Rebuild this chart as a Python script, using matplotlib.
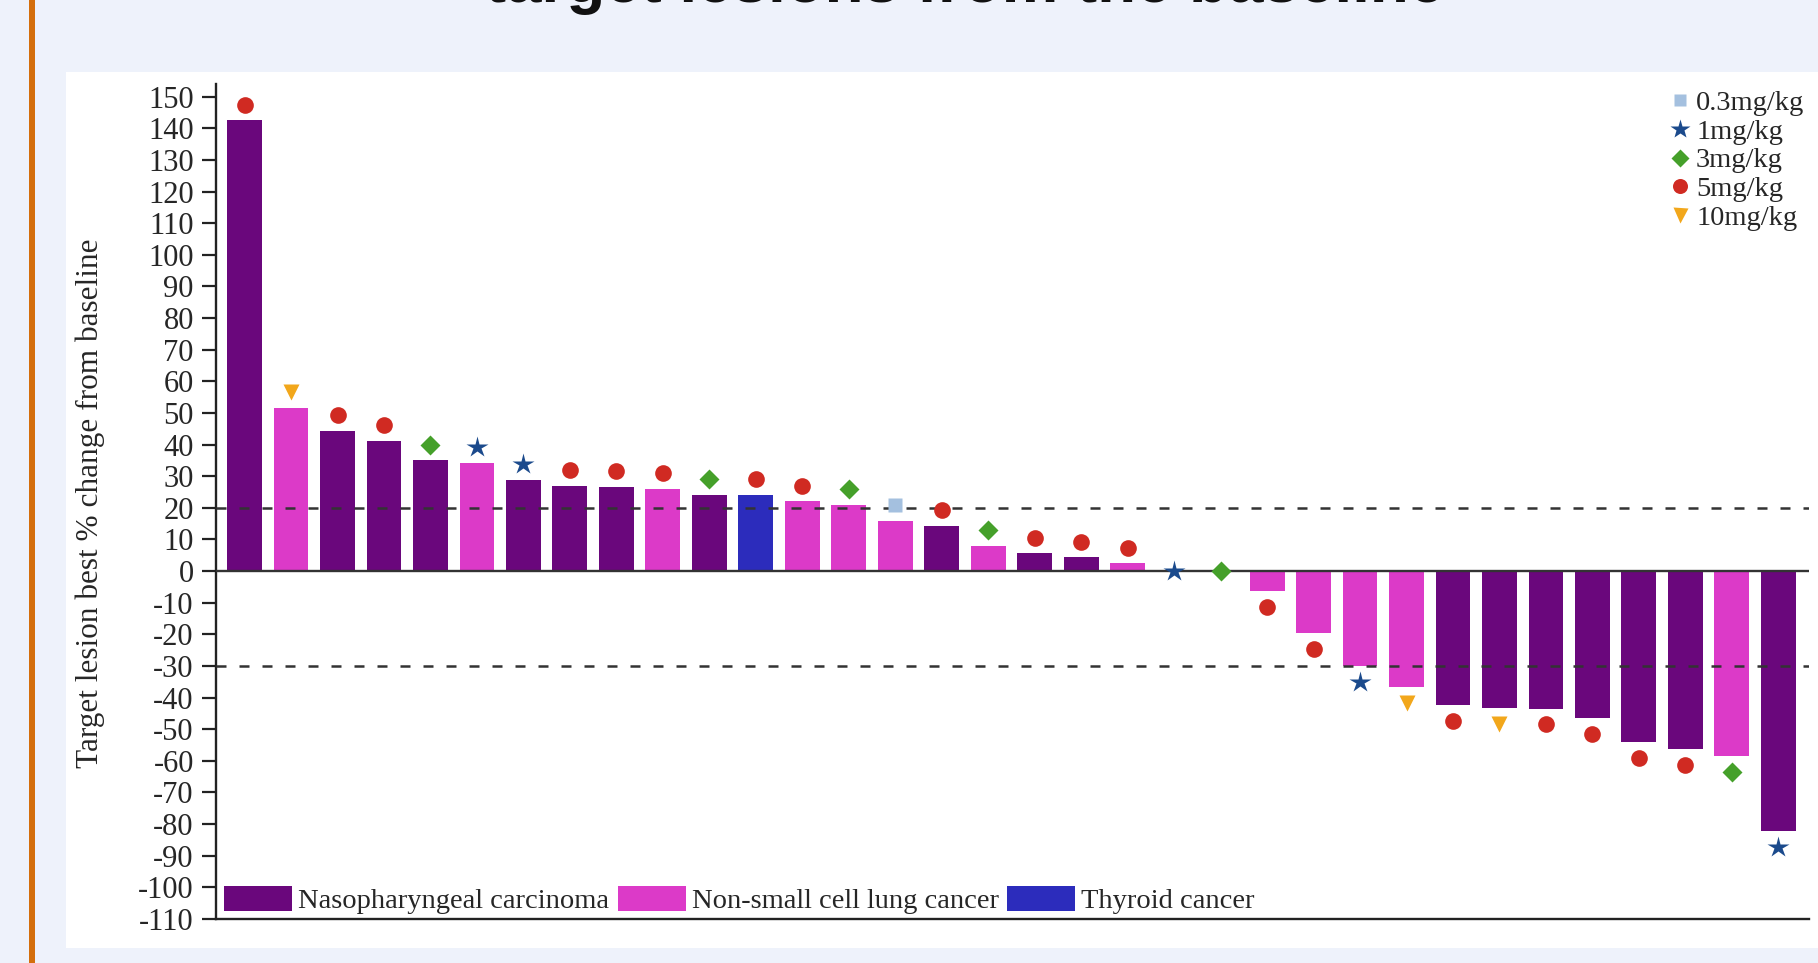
import matplotlib
matplotlib.use("Agg")
import matplotlib.pyplot as plt
from matplotlib.patches import Rectangle, Patch
from matplotlib.lines import Line2D
import numpy as np

# ---- data -------------------------------------------------------------
cancer_type = ["NPC", "NSCLC", "NPC", "NPC", "NPC", "NSCLC", "NPC", "NPC", "NPC",
               "NSCLC", "NPC", "Thyroid", "NSCLC", "NSCLC", "NSCLC", "NPC", "NSCLC",
               "NPC", "NPC", "NSCLC", "NPC", "NPC", "NSCLC", "NSCLC", "NSCLC",
               "NSCLC", "NPC", "NPC", "NPC", "NPC", "NPC", "NPC", "NSCLC", "NPC"]
best_change = [142.5, 51.5, 44.2, 41.2, 35.0, 34.2, 28.7, 27.0, 26.6, 25.9, 24.0,
               24.0, 22.0, 20.8, 15.8, 14.2, 8.0, 5.6, 4.3, 2.4, 0.0, 0.0, -6.3,
               -19.5, -30.0, -36.8, -42.3, -43.4, -43.5, -46.5, -54.0, -56.3,
               -58.4, -82.1]
dose_level = ["5mg/kg", "10mg/kg", "5mg/kg", "5mg/kg", "3mg/kg", "1mg/kg", "1mg/kg",
              "5mg/kg", "5mg/kg", "5mg/kg", "3mg/kg", "5mg/kg", "5mg/kg", "3mg/kg",
              "0.3mg/kg", "5mg/kg", "3mg/kg", "5mg/kg", "5mg/kg", "5mg/kg", "1mg/kg",
              "3mg/kg", "5mg/kg", "5mg/kg", "1mg/kg", "10mg/kg", "5mg/kg", "10mg/kg",
              "5mg/kg", "5mg/kg", "5mg/kg", "5mg/kg", "3mg/kg", "1mg/kg"]
cancer_labels = {"NPC": "Nasopharyngeal carcinoma",
                 "NSCLC": "Non-small cell lung cancer",
                 "Thyroid": "Thyroid cancer"}
dose_order = ["0.3mg/kg", "1mg/kg", "3mg/kg", "5mg/kg", "10mg/kg"]
thresholds = [20, -30]
yticks = list(range(-110, 151, 10))

# ---- styles -----------------------------------------------------------
bar_colors = {"NPC": "#6a077c", "NSCLC": "#dc3ac8", "Thyroid": "#2c2cbc"}
dose_style = {
    "0.3mg/kg": dict(marker="s", color="#a4c0df", ms=10),
    "1mg/kg": dict(marker="*", color="#1b4a8c", ms=16),
    "3mg/kg": dict(marker="D", color="#45a02a", ms=10.5),
    "5mg/kg": dict(marker="o", color="#d02a22", ms=12),
    "10mg/kg": dict(marker="v", color="#f2a71b", ms=12),
}
serif = ["Liberation Serif", "DejaVu Serif"]
text_color = "#262626"
W, H = 1818, 963

fig = plt.figure(figsize=(W / 100, H / 100), dpi=100)
fig.patch.set_facecolor("#eef2fb")

# white panel and orange accent bar, kept behind the axes
fig.patches.append(Rectangle((66 / W, 1 - 948 / H), 1 - 66 / W, (948 - 72) / H,
                             transform=fig.transFigure, facecolor="white",
                             edgecolor="none", zorder=-2))
fig.patches.append(Rectangle((29 / W, 0), 6 / W, 1, transform=fig.transFigure,
                             facecolor="#d46e0c", edgecolor="none", zorder=-2))

# title (only its last line shows at the top edge)
title = fig.text(965 / W, 1 - 2 / H, "target lesions from the baseline",
                 ha="center", va="baseline", fontsize=40, fontweight="bold",
                 family=["Liberation Sans", "DejaVu Sans"], color="#111111")
fig.canvas.draw()
tw = title.get_window_extent().width
title.set_fontsize(40 * 956 / tw)

ax = fig.add_axes([216 / W, 1 - 919 / H, (1809 - 216) / W, (919 - 84) / H])
ax.set_facecolor("none")

x = np.arange(len(best_change))
vals = np.array(best_change)
ax.bar(x, vals, width=0.75, color=[bar_colors[c] for c in cancer_type],
       zorder=2)

# zero line and threshold lines
ax.axhline(0, color="#333333", lw=1.7, zorder=3)
for t in thresholds:
    ax.axhline(t, color="#333333", lw=1.8, dashes=(4, 5.2), zorder=3)

# dose markers just beyond the bar end
offset = 5.0
marker_y = vals + offset * np.sign(vals)
for d in dose_order:
    idx = [i for i, dl in enumerate(dose_level) if dl == d]
    st = dose_style[d]
    ax.plot(x[idx], marker_y[idx], ls="none", marker=st["marker"],
            color=st["color"], ms=st["ms"], mec="none", zorder=4)

ax.set_xlim(-0.615, 33.66)
ax.set_ylim(-110, 154)
ax.set_yticks(yticks)
ax.set_yticklabels([str(v) for v in yticks], family=serif, fontsize=22,
                   color=text_color)
ax.set_xticks([])
ax.tick_params(axis="y", direction="out", length=10, width=1.6, pad=6,
               color="#222222")
for s in ["top", "right"]:
    ax.spines[s].set_visible(False)
for s in ["left", "bottom"]:
    ax.spines[s].set_linewidth(1.7)
    ax.spines[s].set_color("#222222")

fig.text(90 / W, 1 - 503 / H, "Target lesion best % change from baseline",
         rotation=90, ha="center", va="center", family=serif, fontsize=22.5,
         color=text_color)

# dose legend (top right)
dose_handles = [Line2D([], [], ls="none", marker=dose_style[d]["marker"],
                       color=dose_style[d]["color"], mec="none",
                       ms=dose_style[d]["ms"] * 0.9) for d in dose_order]
leg1 = fig.legend(dose_handles, dose_order, loc="upper left",
                  bbox_to_anchor=(1669 / W, 1 - 90 / H), frameon=False,
                  prop=dict(family=serif, size=20.5), handlelength=0.8,
                  handletextpad=0.15, labelspacing=0.1, borderpad=0,
                  borderaxespad=0)
for t in leg1.get_texts():
    t.set_color(text_color)

# cancer type legend (bottom left)
type_handles = [Patch(facecolor=bar_colors[k], edgecolor="none")
                for k in ["NPC", "NSCLC", "Thyroid"]]
leg2 = fig.legend(type_handles, [cancer_labels[k] for k in ["NPC", "NSCLC", "Thyroid"]],
                  loc="center left", bbox_to_anchor=(224 / W, 1 - 900 / H),
                  ncol=3, frameon=False, prop=dict(family=serif, size=20.5),
                  handlelength=2.4, handleheight=0.95, handletextpad=0.2,
                  columnspacing=0.3, borderpad=0, borderaxespad=0)
for t in leg2.get_texts():
    t.set_color(text_color)

fig.savefig("out.png", dpi=100, facecolor=fig.get_facecolor())
